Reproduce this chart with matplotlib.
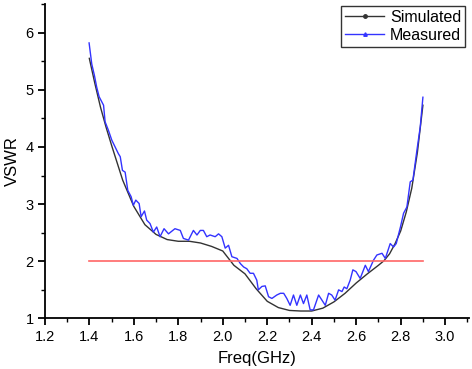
import matplotlib.pyplot as plt
from matplotlib.lines import Line2D
from matplotlib.ticker import MultipleLocator

plt.rcParams['font.family'] = ['Liberation Sans', 'DejaVu Sans']

# simulated VSWR (smooth curve)
sim_freq = [1.4, 1.425, 1.45, 1.475, 1.5, 1.55, 1.6, 1.65, 1.7, 1.75, 1.8, 1.85,
            1.9, 1.95, 2.0, 2.05, 2.1, 2.15, 2.2, 2.25, 2.3, 2.35, 2.4, 2.45,
            2.5, 2.55, 2.6, 2.65, 2.7, 2.725, 2.75, 2.775, 2.8, 2.825, 2.85,
            2.875, 2.9]
sim_vswr = [5.55, 5.11, 4.70, 4.35, 4.03, 3.42, 2.96, 2.64, 2.47, 2.38, 2.35, 2.35,
            2.32, 2.26, 2.18, 1.93, 1.78, 1.52, 1.30, 1.19, 1.14, 1.13, 1.13, 1.18,
            1.29, 1.44, 1.62, 1.78, 1.93, 2.01, 2.13, 2.31, 2.53, 2.86, 3.28,
            3.90, 4.73]

# measured VSWR (noisy trace)
meas_freq = [1.399, 1.411, 1.423, 1.433, 1.444, 1.456, 1.464, 1.471, 1.486, 1.501,
             1.516, 1.531, 1.539, 1.549, 1.561, 1.573, 1.588, 1.598, 1.609, 1.624,
             1.633, 1.648, 1.658, 1.673, 1.688, 1.703, 1.718, 1.736, 1.756, 1.785,
             1.809, 1.823, 1.846, 1.868, 1.884, 1.899, 1.913, 1.928, 1.943, 1.966,
             1.981, 1.996, 2.011, 2.026, 2.041, 2.064, 2.079, 2.094, 2.108, 2.123,
             2.138, 2.153, 2.160, 2.176, 2.191, 2.206, 2.221, 2.243, 2.259, 2.274,
             2.288, 2.303, 2.318, 2.333, 2.349, 2.363, 2.378, 2.393, 2.408, 2.431,
             2.446, 2.461, 2.476, 2.490, 2.505, 2.521, 2.536, 2.546, 2.558, 2.573,
             2.585, 2.599, 2.618, 2.641, 2.655, 2.678, 2.693, 2.716, 2.731, 2.753,
             2.768, 2.780, 2.799, 2.813, 2.828, 2.843, 2.855, 2.873, 2.888, 2.900]
meas_vswr = [5.82, 5.45, 5.25, 5.05, 4.88, 4.79, 4.73, 4.44, 4.29, 4.12,
             4.00, 3.88, 3.83, 3.59, 3.56, 3.24, 3.13, 2.98, 3.07, 3.01,
             2.78, 2.88, 2.72, 2.66, 2.51, 2.60, 2.43, 2.57, 2.48, 2.57,
             2.54, 2.40, 2.37, 2.54, 2.46, 2.54, 2.54, 2.43, 2.46, 2.43,
             2.48, 2.43, 2.23, 2.28, 2.08, 2.05, 1.96, 1.90, 1.87, 1.79,
             1.79, 1.67, 1.50, 1.56, 1.57, 1.38, 1.35, 1.41, 1.44, 1.44,
             1.35, 1.23, 1.41, 1.23, 1.41, 1.26, 1.41, 1.15, 1.15, 1.41,
             1.32, 1.23, 1.44, 1.41, 1.32, 1.50, 1.47, 1.55, 1.52, 1.67,
             1.85, 1.82, 1.70, 1.93, 1.82, 2.02, 2.11, 2.14, 2.05, 2.31,
             2.25, 2.31, 2.60, 2.84, 2.95, 3.39, 3.42, 3.94, 4.35, 4.87]

# VSWR = 2 reference line
limit_freq = [1.4, 2.9]
limit_vswr = [2, 2]

fig = plt.figure(figsize=(4.72, 3.69), dpi=100)
ax = fig.add_axes([0.095, 0.137, 0.899, 0.852])

ax.plot(sim_freq, sim_vswr, color='#333333', lw=1.0)
ax.plot(meas_freq, meas_vswr, color='#3333ff', lw=1.0)
ax.plot(limit_freq, limit_vswr, color='#ff6666', lw=1.2)

ax.set_xlim(1.2, 3.108)
ax.set_ylim(1, 6.5)
ax.xaxis.set_major_locator(MultipleLocator(0.2))
ax.xaxis.set_minor_locator(MultipleLocator(0.1))
ax.yaxis.set_major_locator(MultipleLocator(1))
ax.yaxis.set_minor_locator(MultipleLocator(0.5))
ax.xaxis.set_major_formatter(plt.FuncFormatter(lambda v, p: f"{v:.1f}"))
ax.spines['top'].set_visible(False)
ax.spines['right'].set_visible(False)
for s in ('left', 'bottom'):
    ax.spines[s].set_linewidth(1.3)
ax.tick_params(which='major', direction='out', length=5, width=1.3, labelsize=10.5, pad=3)
ax.tick_params(which='minor', direction='out', length=3, width=1.0)

ax.set_xlabel('Freq(GHz)', fontsize=12, labelpad=5)
ax.set_ylabel('VSWR', fontsize=12, labelpad=4)

handles = [
    Line2D([], [], color='#333333', lw=1.0, marker='o', markersize=2.5),
    Line2D([], [], color='#3333ff', lw=1.0, marker='^', markersize=2.5),
]
leg = ax.legend(handles, ['Simulated', 'Measured'], loc='upper right',
                bbox_to_anchor=(0.991, 0.995), fontsize=11.5, fancybox=False,
                framealpha=1, borderpad=0.25, labelspacing=0.2,
                handlelength=2.4, handletextpad=0.4, borderaxespad=0.0)
leg.get_frame().set_edgecolor('#333333')
leg.get_frame().set_linewidth(1.0)

fig.savefig('out.png', dpi=100)
